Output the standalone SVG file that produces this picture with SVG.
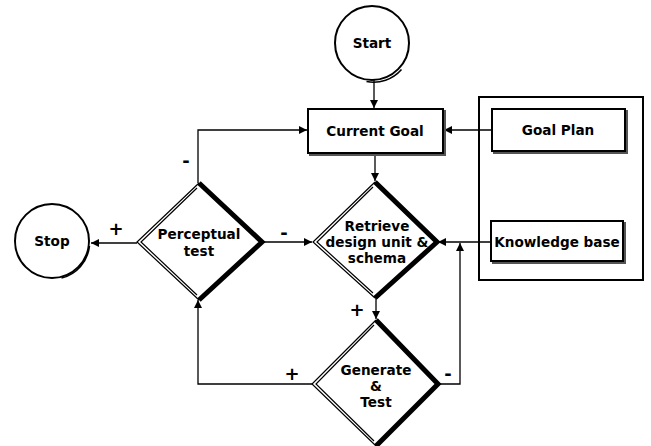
<svg xmlns="http://www.w3.org/2000/svg" width="651" height="446" viewBox="0 0 651 446">
<defs>
<marker id="ah" viewBox="0 0 10 10" refX="10" refY="5" markerWidth="8" markerHeight="8" markerUnits="userSpaceOnUse" orient="auto">
<path d="M0,0 L10,5 L0,10 z" fill="#000"/>
</marker>
</defs>
<style>
text{font-family:"DejaVu Sans",Verdana,sans-serif;font-weight:bold;font-size:13.6px;fill:#000;text-anchor:middle}
.lbl{font-size:18px}
.box{fill:#fff;stroke:#000;stroke-width:2}
.shadow{fill:none;stroke:#555;stroke-width:2}
.circ{fill:#fff;stroke:#000;stroke-width:2}
.dthin{fill:none;stroke:#000;stroke-width:1.2}
.dthick{fill:none;stroke:#000;stroke-width:5;stroke-linecap:butt}
.con{fill:none;stroke:#000;stroke-width:1.3}
.outer{fill:none;stroke:#000;stroke-width:2}
</style>
<rect width="651" height="446" fill="#fff"/>

<g id="connectors">
<line class="con" x1="374" y1="80" x2="374" y2="108" marker-end="url(#ah)"/>
<line class="con" x1="375" y1="154" x2="375" y2="181" marker-end="url(#ah)"/>
<line class="con" x1="491" y1="130" x2="444" y2="130" marker-end="url(#ah)"/>
<polyline class="con" points="198,183 198,130 307,130" marker-end="url(#ah)"/>
<line class="con" x1="137" y1="243" x2="91" y2="243" marker-end="url(#ah)"/>
<line class="con" x1="262" y1="242" x2="312" y2="242" marker-end="url(#ah)"/>
<line class="con" x1="491" y1="242" x2="438" y2="242" marker-end="url(#ah)"/>
<polyline class="con" points="438,384 460,384 460,243" marker-end="url(#ah)"/>
<line class="con" x1="376" y1="298" x2="376" y2="319" marker-end="url(#ah)"/>
<polyline class="con" points="312,384 198,384 198,300" marker-end="url(#ah)"/>
<text class="lbl" x="186" y="167">-</text>
<text class="lbl" x="116" y="235">+</text>
<text class="lbl" x="284" y="239">-</text>
<text class="lbl" x="357" y="316">+</text>
<text class="lbl" x="292" y="380">+</text>
<text class="lbl" x="448" y="380">-</text>
</g>

<g id="knowledge-group">
<path class="outer" d="M479,97 H643 V280 H479 Z"/>
</g>

<g id="start">
<circle class="circ" cx="372" cy="43" r="37"/>
<path d="M400,68 A37,37 0 0 1 365,80" fill="none" stroke="#000" stroke-width="1.5" transform="translate(1.5,1.5)"/>
<text x="372" y="48">Start</text>
</g>

<g id="stop">
<circle class="circ" cx="52" cy="241" r="37"/>
<path d="M88,245 A37,37 0 0 1 60,277" fill="none" stroke="#000" stroke-width="1.5" transform="translate(1.5,1)"/>
<text x="52" y="246">Stop</text>
</g>

<g id="current-goal">
<rect class="shadow" x="310" y="111" width="135" height="44"/>
<rect class="box" x="308" y="109" width="135" height="44"/>
<text x="375" y="136">Current Goal</text>
</g>

<g id="goal-plan">
<rect class="shadow" x="494" y="111" width="133" height="42"/>
<rect class="box" x="492" y="109" width="133" height="42"/>
<text x="558" y="135">Goal Plan</text>
</g>

<g id="knowledge-base">
<rect class="shadow" x="493" y="223" width="132" height="40"/>
<rect class="box" x="491" y="221" width="132" height="40"/>
<text x="557" y="247">Knowledge base</text>
</g>

<g id="perceptual-test">
<path d="M199,183 L262,242 L199,300 L137,242 Z" fill="#fff"/>
<path class="dthin" d="M199,183 L137,242 L199,300"/>
<path class="dthin" d="M197,188 L141,242 L197,295"/>
<path class="dthick" d="M199,183 L262,242 L199,300"/>
<text x="199" y="239">Perceptual</text>
<text x="199" y="256">test</text>
</g>

<g id="retrieve">
<path d="M375,182 L437,242 L375,298 L313,242 Z" fill="#fff"/>
<path class="dthin" d="M375,182 L313,242 L375,298"/>
<path class="dthin" d="M373,187 L317,242 L373,293"/>
<path class="dthick" d="M375,182 L437,242 L375,298"/>
<text x="377" y="231">Retrieve</text>
<text x="377" y="247">design unit &amp;</text>
<text x="377" y="263">schema</text>
</g>

<g id="generate-test">
<path d="M376,320 L438,384 L376,446 L312,384 Z" fill="#fff"/>
<path class="dthin" d="M376,320 L312,384 L376,446"/>
<path class="dthin" d="M374,325 L316,384 L374,441"/>
<path class="dthick" d="M376,320 L438,384 L376,446"/>
<text x="376" y="375">Generate</text>
<text x="376" y="391">&amp;</text>
<text x="376" y="407">Test</text>
</g>
</svg>
